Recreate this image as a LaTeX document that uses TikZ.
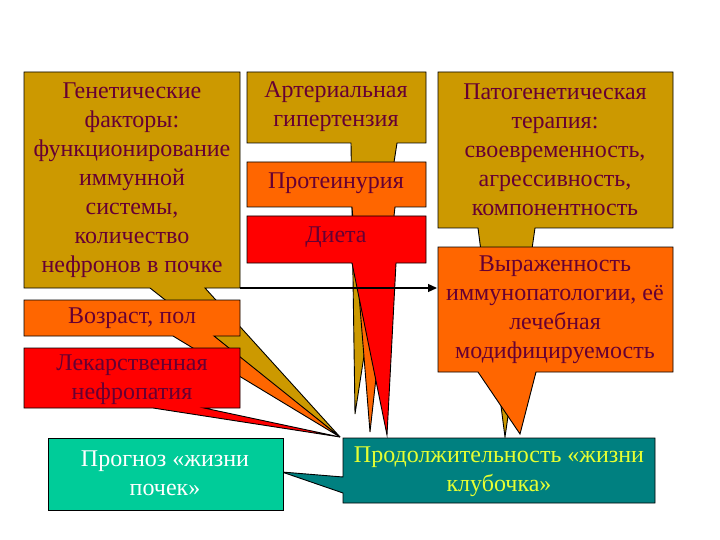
\documentclass[tikz,border=0pt]{standalone}
\usepackage{fontspec}
\setmainfont{Liberation Serif}
\usetikzlibrary{arrows.meta}
\definecolor{goldc}{RGB}{204,153,0}
\definecolor{orangec}{RGB}{255,102,0}
\definecolor{redc}{RGB}{255,0,0}
\definecolor{greenc}{RGB}{0,204,153}
\definecolor{tealc}{RGB}{0,128,128}
\definecolor{txtc}{RGB}{102,0,51}
\definecolor{yelc}{RGB}{230,255,50}
% callout: x1,y1,x2,y2, tail base left, tail base right, tip x, tip y, colour
\newcommand{\mycallout}[9]{%
  \filldraw[calloutline, fill=#9] (#1,#2) -- (#2 -| #3,0) -- cycle;}
\newcommand{\wedgebox}[9]{%
  \filldraw[calloutline, fill=#9] (#1,#2) -- (#3,#2) -- (#3,#4) -- (#6,#4) -- (#7,#8) -- (#5,#4) -- (#1,#4) -- cycle;}
\begin{document}
\begin{tikzpicture}[x=1pt,y=-1pt,
  calloutline/.style={draw=black, line width=0.9pt, line join=miter},
  txt/.style={align=center, text=txtc, font=\fontsize{24}{29}\selectfont, inner sep=0pt},
  wtxt/.style={txt, text=white},
  ytxt/.style={txt, text=yelc}]
\useasboundingbox (0,0) rectangle (720,540);
\fill[white] (0,0) rectangle (720,540);
% left column
\wedgebox{24}{72}{240}{288}{150}{205}{340}{437}{goldc}
\wedgebox{24}{300}{240}{336}{173}{214}{340}{437}{orangec}
\wedgebox{24}{348}{240}{408}{153}{204}{340}{437}{redc}
% middle column
\wedgebox{247}{72}{426}{143}{351}{397}{355}{414}{goldc}
\wedgebox{247}{162}{426}{207}{352}{395}{370}{432}{orangec}
\wedgebox{247}{216}{426}{263}{352}{396}{387}{435}{redc}
% right column
\wedgebox{438}{72}{673}{228}{478}{535}{505}{437}{goldc}
\wedgebox{438}{247}{673}{372}{478}{536}{520}{434}{orangec}
% bottom
\filldraw[calloutline, fill=tealc] (343,438) -- (655,438) -- (655,503) -- (343,503) -- (343,493) -- (282,472) -- (343,477) -- cycle;
\filldraw[calloutline, fill=greenc] (48,438) rectangle (283,510);
% texts
\node[txt] (gen) at (132,180) {Генетические\\факторы:\\функционирование\\иммунной\\системы,\\количество\\нефронов в почке};
\node[txt] (age) at (132,318) {Возраст, пол};
\node[txt] (drug) at (132,380) {Лекарственная\\нефропатия};
\node[txt] (hyp) at (336,107) {Артериальная\\гипертензия};
\node[txt] (prot) at (336,183) {Протеинурия};
\node[txt] (diet) at (336,237) {Диета};
\node[txt] (ther) at (555,150) {Патогенетическая\\терапия:\\своевременность,\\агрессивность,\\компонентность};
\node[txt] (expr) at (555,310) {Выраженность\\иммунопатологии, её\\лечебная\\модифицируемость};
\node[wtxt] (prog) at (165,473) {Прогноз «жизни\\почек»};
\node[ytxt] (dur) at (499,472) {Продолжительность «жизни\\клубочка»};
% arrow
\coordinate (astart) at (240,288);
\coordinate (aend) at (437,288);
\draw[line width=1.2pt, -{Triangle[length=9pt,width=8pt]}] (astart) -- (aend);
\end{tikzpicture}
\end{document}
